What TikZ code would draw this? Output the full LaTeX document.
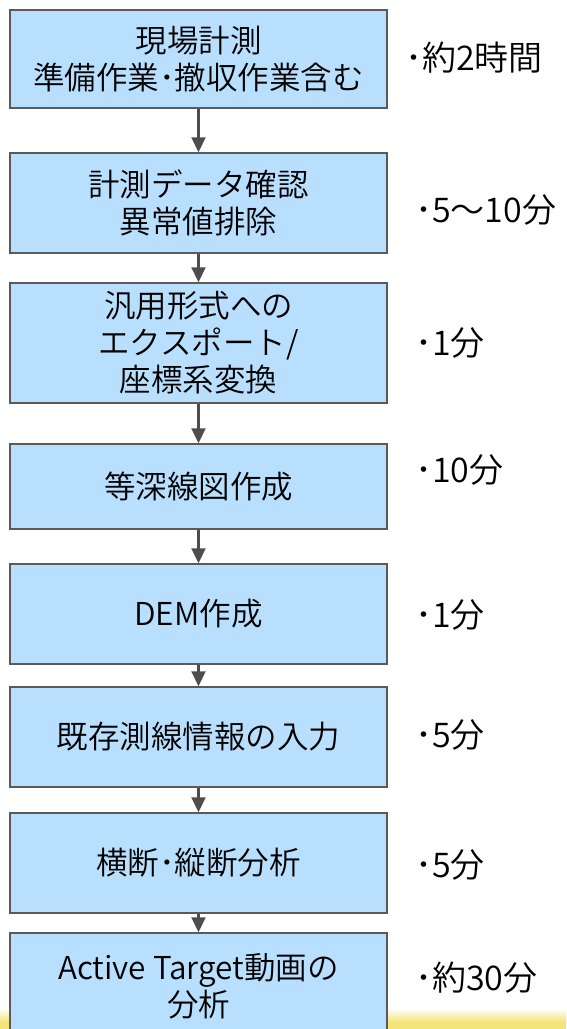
\documentclass[tikz,border=0pt]{standalone}
\usepackage{fontspec}
\setmainfont{Noto Sans CJK JP}[UprightFont=* DemiLight]
\usetikzlibrary{arrows.meta}
\definecolor{boxfill}{RGB}{185,223,254}
\definecolor{boxline}{RGB}{90,90,90}
\definecolor{arrowc}{RGB}{77,77,77}
\definecolor{bandyellow}{RGB}{243,228,122}
\tikzset{
  stepbox/.style={draw=boxline, line width=1.5pt, fill=boxfill, minimum width=377pt,
    inner sep=0pt, align=center, font=\fontsize{31.5}{37}\selectfont},
  flow/.style={draw=arrowc, line width=2.2pt, -{Triangle[width=14pt,length=15pt]}},
  note/.style={anchor=west, inner sep=0pt, font=\fontsize{34}{38}\selectfont}
}
\begin{document}
\begin{tikzpicture}[x=1pt,y=-1pt]
\useasboundingbox (0,0) rectangle (566,1029);
\clip (0,0) rectangle (566,1029);
\shade[top color=white, bottom color=bandyellow] (0,1008) rectangle (566,1022);
\fill[bandyellow] (0,1022) rectangle (566,1029);

\node[stepbox, minimum height=98pt]  (b1) at (198.5,59)  {現場計測\\準備作業･撤収作業含む};
\node[stepbox, minimum height=100pt] (b2) at (198.5,203) {計測データ確認\\異常値排除};
\node[stepbox, minimum height=120pt] (b3) at (198.5,343) {汎用形式への\\エクスポート/\\座標系変換};
\node[stepbox, minimum height=85pt]  (b4) at (198.5,486.5) {等深線図作成};
\node[stepbox, minimum height=100pt] (b5) at (198.5,614) {DEM作成};
\node[stepbox, minimum height=100pt] (b6) at (198.5,737) {既存測線情報の入力};
\node[stepbox, minimum height=100pt] (b7) at (198.5,863) {横断･縦断分析};
\node[stepbox, minimum height=106pt] (b8) at (198.5,986) {Active Target動画の\\分析};

\draw[flow] (b1.south) -- (b2.north);
\draw[flow] (b2.south) -- (b3.north);
\draw[flow] (b3.south) -- (b4.north);
\draw[flow] (b4.south) -- (b5.north);
\draw[flow] (b5.south) -- (b6.north);
\draw[flow] (b6.south) -- (b7.north);
\draw[flow] (b7.south) -- (b8.north);

\node[note] (t1) at (405,58)  {･約2時間};
\node[note] (t2) at (415,210) {･5～10分};
\node[note] (t3) at (415,343) {･1分};
\node[note] (t4) at (415,470) {･10分};
\node[note] (t5) at (415,615) {･1分};
\node[note] (t6) at (415,735) {･5分};
\node[note] (t7) at (415,865) {･5分};
\node[note] (t8) at (415,978) {･約30分};
\end{tikzpicture}
\end{document}
